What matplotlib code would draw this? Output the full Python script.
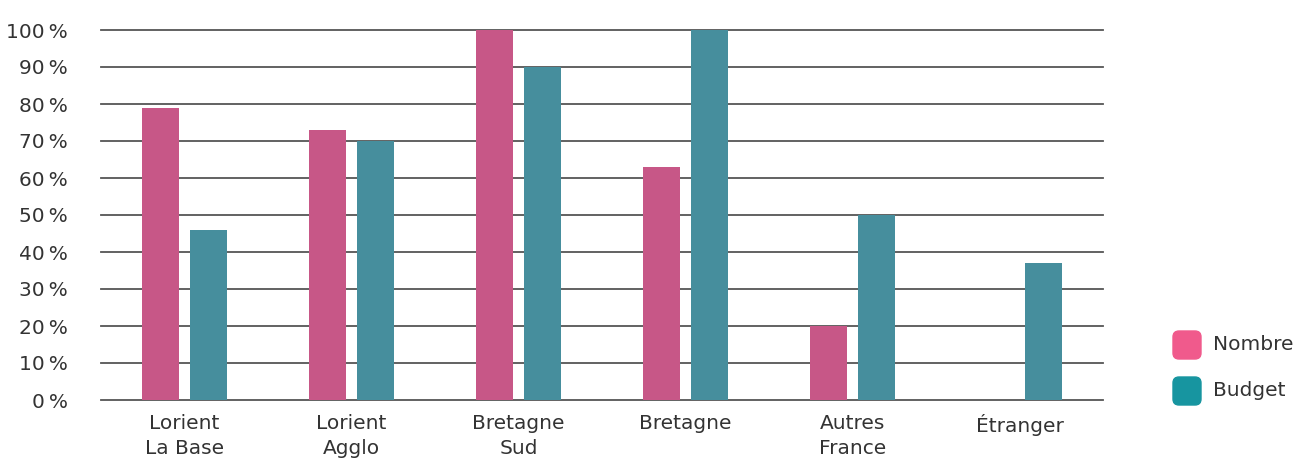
import numpy as np
import matplotlib.pyplot as plt
from matplotlib.patches import FancyBboxPatch
from matplotlib.transforms import IdentityTransform

categories = ['Lorient\nLa Base', 'Lorient\nAgglo', 'Bretagne\nSud', 'Bretagne', 'Autres\nFrance', 'Étranger']
nombre = [79, 73, 100, 63, 20, 0]
budget = [46, 70, 90, 100, 50, 37]
series_names = ['Nombre', 'Budget']
bar_colors = ['#c75787', '#468e9d']
legend_colors = ['#f05a8c', '#1795a0']
yticks = list(range(0, 101, 10))

plt.rcParams['font.family'] = ['DejaVu Sans']
text_color = '#333333'

W, H = 1301, 459
fig = plt.figure(figsize=(W / 100, H / 100), dpi=100)
ax = fig.add_axes([101 / W, (H - 400) / H, (1103 - 101) / W, 370 / H])

x = np.arange(len(categories))
bw = 37 / 167
off = 24 / 167
ax.bar(x - off, nombre, width=bw, color=bar_colors[0], zorder=3)
ax.bar(x + off, budget, width=bw, color=bar_colors[1], zorder=3)

ax.set_xlim(-0.5, len(categories) - 0.5)
ax.set_ylim(0, 100)
ax.set_yticks(yticks)
ax.set_yticklabels([f'{v}\u2009%' for v in yticks], fontsize=14.5, color=text_color)
ax.set_xticks(x)
ax.set_xticklabels(categories, fontsize=14.5, color=text_color, linespacing=1.4)
ax.tick_params(axis='y', length=0, pad=24)
ax.tick_params(axis='x', length=0, pad=10)
ax.yaxis.grid(True, color='#555555', linewidth=1.3, zorder=1)
ax.set_axisbelow(True)
for gl in ax.yaxis.get_gridlines():
    gl.set_clip_on(False)
for s in ax.spines.values():
    s.set_visible(False)

# legend with rounded swatches, drawn in pixel coords
for i, (name, col) in enumerate(zip(series_names, legend_colors)):
    yc = 345 + i * 46
    fig.patches.append(FancyBboxPatch((1173, H - yc - 14), 28, 28,
                                      boxstyle='round,pad=0,rounding_size=6',
                                      transform=IdentityTransform(), color=col))
    fig.text(1213 / W, (H - yc) / H, name, fontsize=14.5, color=text_color, va='center', ha='left')

fig.savefig('out.png', dpi=100)
